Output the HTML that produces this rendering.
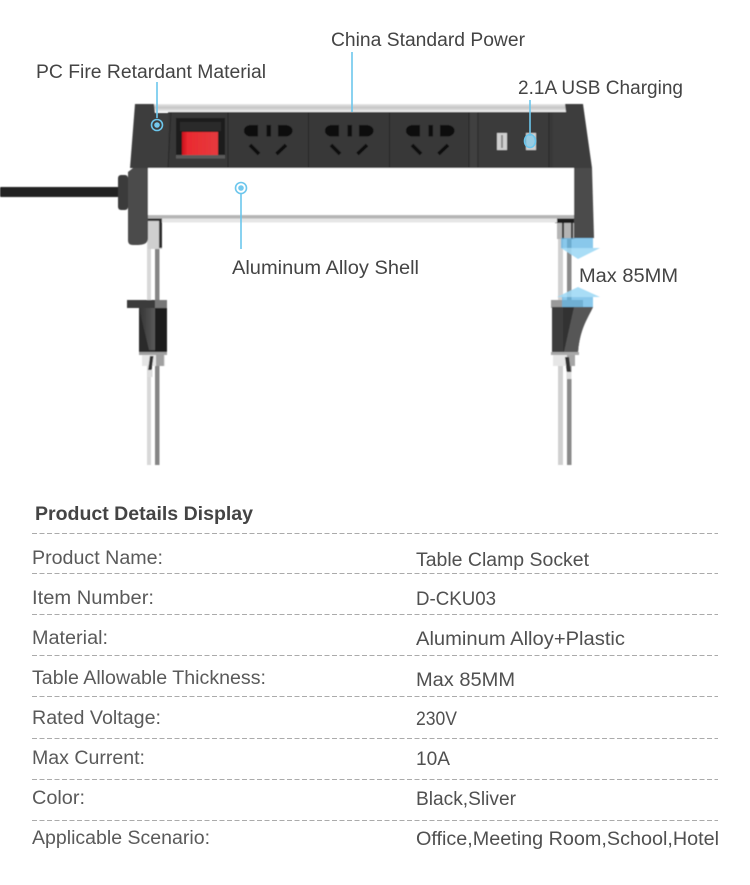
<!DOCTYPE html>
<html>
<head>
<meta charset="utf-8">
<style>
html,body{margin:0;padding:0;background:#fff;width:750px;height:885px;overflow:hidden}
svg{display:block}
text{font-family:"Liberation Sans",sans-serif;font-size:19px;fill:#444}
.l{fill:#5a5a5a}
.v{fill:#505050}
</style>
</head>
<body>
<svg width="750" height="885" viewBox="0 0 750 885" xmlns="http://www.w3.org/2000/svg">
<defs>
<linearGradient id="top" x1="0" y1="0" x2="0" y2="1"><stop offset="0" stop-color="#e8e8e8"/><stop offset=".45" stop-color="#c4c4c4"/><stop offset="1" stop-color="#f4f4f4"/></linearGradient>
<linearGradient id="red" x1="0" y1="0" x2="1" y2="0"><stop offset="0" stop-color="#c8101c"/><stop offset=".15" stop-color="#ea2a30"/><stop offset="1" stop-color="#e53a3e"/></linearGradient>
<linearGradient id="wedge" x1="0" y1="0" x2="1" y2="0"><stop offset="0" stop-color="#333"/><stop offset="1" stop-color="#5a5a5a"/></linearGradient>
<filter id="soft" x="-5%" y="-5%" width="110%" height="110%"><feGaussianBlur stdDeviation="0.5"/></filter>
<g id="sock">
<path d="M258 125V136.500H251C247 136.500 244 134 244 130.700S247 125 251 125Z" fill="#0b0b0b"/>
<rect x="266.500" y="125" width="4.500" height="11.500" fill="#0b0b0b"/>
<path d="M278 125V136.500H285C289 136.500 292.500 134 292.500 130.700S289 125 285 125Z" fill="#0b0b0b"/>
<path d="M250 145L259 154M286 145L276.500 154" stroke="#0b0b0b" stroke-width="3.600" fill="none"/>
</g>
</defs>

<g filter="url(#soft)">
<!-- left poles -->
<rect x="147" y="222" width="4" height="243" fill="#d8d8d8"/>
<rect x="155" y="222" width="4.500" height="243" fill="#858585"/>
<!-- right poles -->
<rect x="558" y="222" width="5" height="243" fill="#d0d0d0"/>
<rect x="567" y="222" width="4.500" height="243" fill="#8a8a8a"/>

<!-- cable -->
<rect x="0" y="187" width="120" height="10" rx="1" fill="#222"/>
<rect x="118" y="175" width="10" height="35" rx="3" fill="#3b3b3b"/>

<!-- top silver bar -->
<rect x="154" y="104" width="412" height="8" fill="url(#top)"/>

<!-- brackets behind -->
<rect x="148" y="216" width="14" height="33" fill="#cfcfcf"/>
<path d="M148 218h14v3h-14zM159 221h3v27h-3z" fill="#2e2e2e"/>
<rect x="555" y="218" width="20" height="5" fill="#1f1f1f"/>
<rect x="557" y="223" width="18" height="16" fill="#b4b4b4"/>
<rect x="562" y="223" width="2" height="16" fill="#333"/>
<rect x="571" y="223" width="2" height="16" fill="#333"/>

<!-- left end cap -->
<path d="M135 104H154L155 113H172L168 168H130Z" fill="#3e3e3e"/>
<path d="M128 172L133 168H148V238C148 245 141 245 135 245H133C129 245 128 243 128 240Z" fill="#4c4c4c"/>
<!-- right end cap -->
<path d="M565 104H583L592 168H553V112H566Z" fill="#3e3e3e"/>
<path d="M574 168H592L594 238H574Z" fill="#4c4c4c"/>

<!-- main black body -->
<rect x="168" y="112" width="385" height="56" fill="#383838"/>
<rect x="469" y="112" width="9" height="56" fill="#404040"/>
<rect x="478" y="113" width="72" height="55" fill="#3a3a3a"/>
<path d="M228 112V168M308.500 112V168M389.500 112V168M469 112V168M478 112V168M549 112V168M171 112L168 168" stroke="#282828" stroke-width="1" fill="none"/>

<!-- switch -->
<rect x="176" y="118" width="49" height="40" fill="#1f1f1f"/>
<rect x="180" y="122" width="41" height="9" fill="#2c2c2c"/>
<rect x="176" y="155" width="49" height="3.500" fill="#5a5a5a"/>
<rect x="182" y="132" width="36" height="23" fill="url(#red)"/>

<!-- sockets -->
<use href="#sock"/>
<use href="#sock" x="81"/>
<use href="#sock" x="162"/>

<!-- USB -->
<rect x="497" y="133" width="10" height="17" fill="#cfcfcf"/>
<rect x="501" y="135" width="2" height="13" fill="#8a8a8a"/>
<rect x="526" y="133" width="10" height="17" fill="#cfcfcf"/>

<!-- white shell -->
<rect x="148" y="168" width="426" height="47" fill="#fff"/>
<rect x="148" y="215" width="426" height="3.500" fill="#b5b5b5"/>
<rect x="162" y="218.500" width="395" height="4" fill="#e6e6e6"/>

<!-- left clamp -->
<rect x="127" y="300" width="28" height="8" fill="#3a3a3a"/>
<rect x="155" y="300" width="12" height="8" fill="#777"/>
<rect x="139" y="308" width="28" height="45" fill="#2c2c2c"/>
<path d="M139 308L155 308V350L149 350Z" fill="url(#wedge)"/>
<rect x="155" y="308" width="12" height="45" fill="#1d1d1d"/>
<rect x="139" y="352" width="28" height="3" fill="#a0a0a0"/>
<rect x="142" y="355" width="23" height="11" fill="#e6e6e6"/>
<rect x="156" y="355" width="8" height="11" fill="#a0a0a0"/>
<path d="M150 356L153.500 356L151.500 371L148 371Z" fill="#333"/>
<rect x="147.500" y="370" width="5" height="7" fill="#ddd"/>

<!-- right clamp -->
<rect x="551" y="300" width="32" height="8" fill="#9a9a9a"/>
<path d="M552 307H593C588 318 580 328 578 352H552Z" fill="#303030"/>
<path d="M552 307H563V352H552Z" fill="#3c3c3c"/>
<path d="M564 352L574 307H593C588 318 580 328 578 352Z" fill="#565656"/>
<rect x="551" y="352" width="28" height="3" fill="#a8a8a8"/>
<rect x="553" y="355" width="22" height="11" fill="#e6e6e6"/>
<rect x="567" y="355" width="8" height="11" fill="#a5a5a5"/>
<path d="M565 357L569 357L571 373L567 373Z" fill="#333"/>
<rect x="566.500" y="372" width="5" height="7" fill="#ddd"/>

<!-- arrows -->
<path d="M561 238H593V248.500H561Z" fill="#62b6e4" opacity=".75"/>
<path d="M561 248H600L578 259Z" fill="#a0d9f5" opacity=".9"/>
<path d="M562 297H593V307H562Z" fill="#62b6e4" opacity=".75"/>
<path d="M557 297L578 287 600 297Z" fill="#a0d9f5" opacity=".9"/>
</g>

<!-- callouts -->
<g stroke="#6cc6ec" stroke-width="1.600" fill="none">
<path d="M352 52V112"/>
<path d="M157 82V118"/>
<path d="M241 194V249"/>
<path d="M530 100V136"/>
<circle cx="157" cy="125" r="5.500"/>
<circle cx="241" cy="188" r="5.500"/>
<ellipse cx="530" cy="141" rx="5.500" ry="6.500" fill="#74c9ee" fill-opacity=".6"/>
</g>
<circle cx="157" cy="125" r="2.800" fill="#74c9ee"/>
<circle cx="241" cy="188" r="2.800" fill="#74c9ee"/>

<!-- labels -->
<text x="331" y="46" textLength="194" lengthAdjust="spacingAndGlyphs">China Standard Power</text>
<text x="36" y="78" textLength="230" lengthAdjust="spacingAndGlyphs">PC Fire Retardant Material</text>
<text x="518" y="94" textLength="165" lengthAdjust="spacingAndGlyphs">2.1A USB Charging</text>
<text x="232" y="274" textLength="187" lengthAdjust="spacingAndGlyphs">Aluminum Alloy Shell</text>
<text x="579" y="282" textLength="99" lengthAdjust="spacingAndGlyphs">Max 85MM</text>

<!-- table -->
<text x="35" y="520" textLength="218" lengthAdjust="spacingAndGlyphs" style="font-weight:bold;fill:#444">Product Details Display</text>
<g stroke="#ababab" stroke-width="1" stroke-dasharray="5 2.500" fill="none">
<path d="M32 533.500H718"/>
<path d="M32 573.500H718"/>
<path d="M32 614.500H718"/>
<path d="M32 655.500H718"/>
<path d="M32 696.500H718"/>
<path d="M32 738.500H718"/>
<path d="M32 779.500H718"/>
<path d="M32 820.500H718"/>
</g>
<text class="l" x="32" y="564" textLength="131" lengthAdjust="spacingAndGlyphs">Product Name:</text>
<text class="l" x="32" y="604" textLength="122" lengthAdjust="spacingAndGlyphs">Item Number:</text>
<text class="l" x="32" y="644" textLength="76" lengthAdjust="spacingAndGlyphs">Material:</text>
<text class="l" x="32" y="684" textLength="234" lengthAdjust="spacingAndGlyphs">Table Allowable Thickness:</text>
<text class="l" x="32" y="724" textLength="129" lengthAdjust="spacingAndGlyphs">Rated Voltage:</text>
<text class="l" x="32" y="764" textLength="113" lengthAdjust="spacingAndGlyphs">Max Current:</text>
<text class="l" x="32" y="804" textLength="53" lengthAdjust="spacingAndGlyphs">Color:</text>
<text class="l" x="32" y="844" textLength="178" lengthAdjust="spacingAndGlyphs">Applicable Scenario:</text>
<text class="v" x="416" y="566" textLength="173" lengthAdjust="spacingAndGlyphs">Table Clamp Socket</text>
<text class="v" x="416" y="605" textLength="80" lengthAdjust="spacingAndGlyphs">D-CKU03</text>
<text class="v" x="416" y="645" textLength="209" lengthAdjust="spacingAndGlyphs">Aluminum Alloy+Plastic</text>
<text class="v" x="416" y="686" textLength="99" lengthAdjust="spacingAndGlyphs">Max 85MM</text>
<text class="v" x="416" y="725" textLength="41" lengthAdjust="spacingAndGlyphs">230V</text>
<text class="v" x="416" y="765" textLength="34" lengthAdjust="spacingAndGlyphs">10A</text>
<text class="v" x="416" y="805" textLength="100" lengthAdjust="spacingAndGlyphs">Black,Sliver</text>
<text class="v" x="416" y="845" textLength="303" lengthAdjust="spacingAndGlyphs">Office,Meeting Room,School,Hotel</text>
</svg>
</body>
</html>
